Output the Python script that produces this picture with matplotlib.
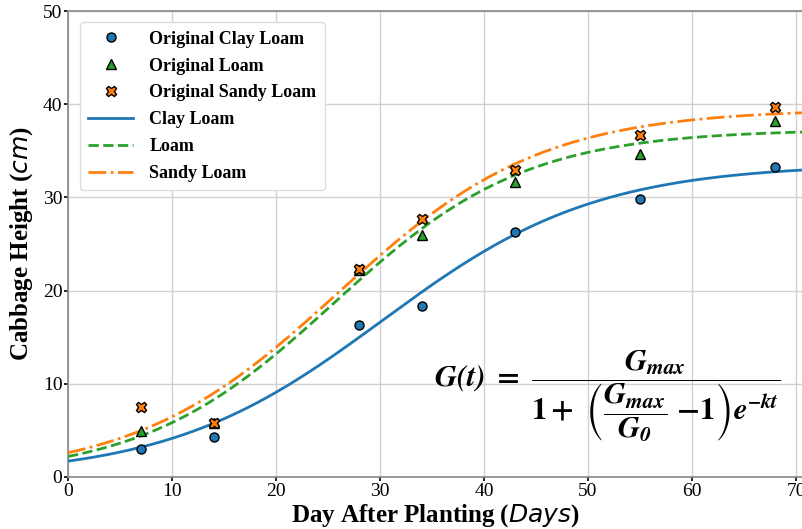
import numpy as np
import matplotlib
matplotlib.use("Agg")
import matplotlib.pyplot as plt

# Observed data
days = [7, 14, 28, 34, 43, 55, 68]
clay_loam = [3.0, 4.3, 16.3, 18.4, 26.3, 29.8, 33.3]
loam = [4.9, 5.8, 22.2, 26.0, 31.7, 34.7, 38.2]
sandy_loam = [7.5, 5.8, 22.3, 27.7, 33.0, 36.7, 39.7]

# Fitted logistic parameters (Gmax, G0, k)
clay_params = [33.6, 1.7, 0.097]
loam_params = [37.3, 2.2, 0.1084]
sandy_params = [39.5, 2.6, 0.1022]

x_ticks = [0, 10, 20, 30, 40, 50, 60, 70]
y_ticks = [0, 10, 20, 30, 40, 50]


def logistic(t, p):
    gmax, g0, k = p
    return gmax / (1 + (gmax / g0 - 1) * np.exp(-k * t))


plt.rcParams['font.family'] = ['Liberation Serif', 'DejaVu Serif']

fig = plt.figure(figsize=(8.03, 5.29), dpi=100)
ax = fig.add_axes([0.0847, 0.0983, 1.0 - 0.0847, 0.979 - 0.0983])

t = np.linspace(0, 71, 400)
blue, green, orange = '#1f77b4', '#2ca02c', '#ff7f0e'

ax.plot(days, clay_loam, 'o', color=blue, mec='black', mew=1.0, ms=6.5,
        label='Original Clay Loam', zorder=4)
ax.plot(days, loam, '^', color=green, mec='black', mew=1.0, ms=7.5,
        label='Original Loam', zorder=4)
ax.plot(days, sandy_loam, 'X', color=orange, mec='black', mew=1.0, ms=7.5,
        label='Original Sandy Loam', zorder=4)
ax.plot(t, logistic(t, clay_params), '-', color=blue, lw=2, label='Clay Loam', zorder=3)
ax.plot(t, logistic(t, loam_params), '--', color=green, lw=2, label='Loam', zorder=3)
ax.plot(t, logistic(t, sandy_params), '-.', color=orange, lw=2, label='Sandy Loam', zorder=3)

ax.set_xlim(0, 70.67)
ax.set_ylim(0, 50)
ax.set_xticks(x_ticks)
ax.set_yticks(y_ticks)
ax.tick_params(axis='both', labelsize=14, length=3, width=1.2, color='black', pad=1)
ax.grid(True, color='#d0d0d0', lw=1)
ax.set_axisbelow(True)
for s in ['left', 'bottom', 'top']:
    ax.spines[s].set_color('#888888')
    ax.spines[s].set_linewidth(1.2)
ax.spines['right'].set_visible(False)

ax.set_xlabel(r'Day After Planting ($Days$)', fontsize=18, fontweight='bold', labelpad=2)
ax.set_ylabel(r'Cabbage Height ($cm$)', fontsize=18, fontweight='bold', labelpad=6)

leg = ax.legend(loc='upper left', bbox_to_anchor=(0.004, 0.995),
                prop={'weight': 'bold', 'size': 13}, frameon=True, fancybox=True,
                edgecolor='#dddddd', framealpha=1.0, handlelength=2.5,
                labelspacing=0.55, borderpad=0.45, handletextpad=0.9)

plt.rcParams['mathtext.fontset'] = 'stix'
ax.text(0.733, 0.173,
        r'$\mathbfit{G(t)}\ \mathbf{=}\ \dfrac{\mathbfit{G_{max}}}'
        r'{\mathbf{1+}\ \left(\dfrac{\mathbfit{G_{max}}}{\mathbfit{G_0}}\ \mathbf{-1}\right)\mathbfit{e^{-kt}}}$',
        transform=ax.transAxes, fontsize=22, ha='center', va='center')

fig.savefig('out.png', dpi=100)
